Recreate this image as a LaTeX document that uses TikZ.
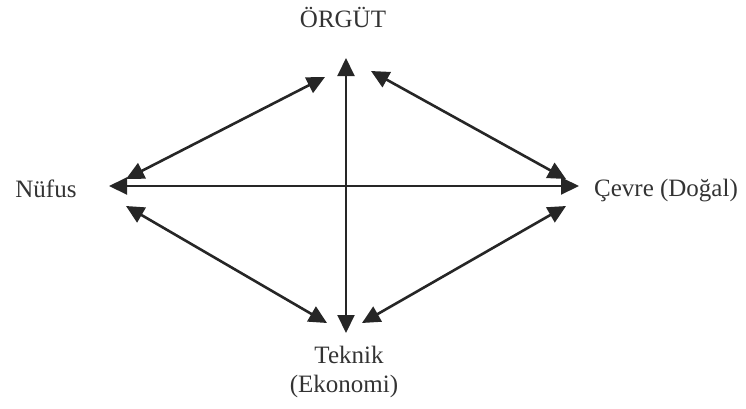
\documentclass[tikz,border=0pt]{standalone}
\usepackage{fontspec}
\setmainfont{Liberation Serif}
\usetikzlibrary{arrows.meta}
\begin{document}
\begin{tikzpicture}[x=1pt,y=-1pt,
  lbl/.style={font=\fontsize{25}{30}\selectfont, text=black!80, inner sep=0pt, anchor=base},
  link/.style={line width=2.6pt, black!85, {Triangle[length=18pt,width=17pt]}-{Triangle[length=18pt,width=17pt]}},
  axis/.style={line width=2pt, black!85, {Triangle[length=18pt,width=17pt]}-{Triangle[length=18pt,width=17pt]}}]
\useasboundingbox (0,0) rectangle (746,408);
\node[lbl] (org) at (343,27) {ÖRGÜT};
\node[lbl] (nuf) at (46,197) {Nüfus};
\node[lbl] (cev) at (666,196) {Çevre (Doğal)};
\node[lbl] (tek) at (349,363) {Teknik};
\node[lbl] (eko) at (344,392) {(Ekonomi)};
\coordinate (vt) at (346,58);
\coordinate (vb) at (346,333);
\coordinate (hl) at (109,186);
\coordinate (hr) at (579,186);
\coordinate (ul1) at (325,77);
\coordinate (ul2) at (126,179);
\coordinate (ur1) at (371,71);
\coordinate (ur2) at (566,179);
\coordinate (ll1) at (126,206);
\coordinate (ll2) at (327,323);
\coordinate (lr1) at (566,206);
\coordinate (lr2) at (362,323);
\draw[axis] (vt) -- (vb);
\draw[axis] (hl) -- (hr);
\draw[link] (ul1) -- (ul2);
\draw[link] (ur1) -- (ur2);
\draw[link] (ll1) -- (ll2);
\draw[link] (lr1) -- (lr2);
\end{tikzpicture}
\end{document}
